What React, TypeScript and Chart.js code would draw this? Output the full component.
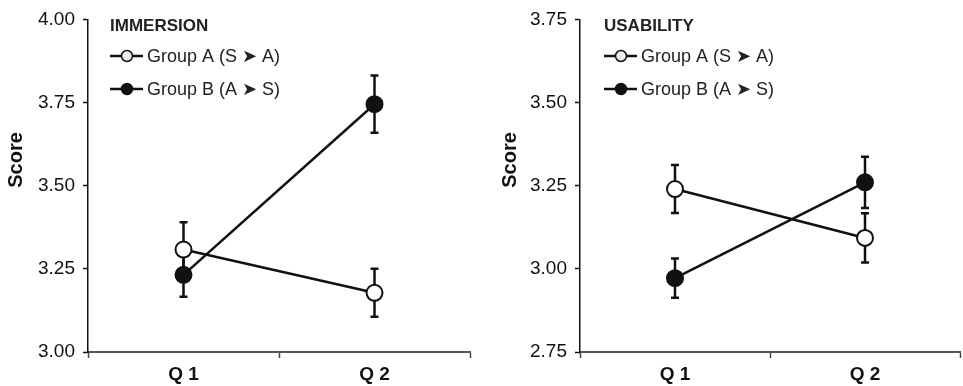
import React, { useEffect, useRef } from 'react';
import { Chart, registerables } from 'chart.js';

Chart.register(...registerables);

const categories = ['Q 1', 'Q 2'];
const seriesNames = ['Group A (S \u27A4 A)', 'Group B (A \u27A4 S)'];

const immersionA = [3.308, 3.178];
const immersionAErr = [0.082, 0.072];
const immersionB = [3.232, 3.745];
const immersionBErr = [0.066, 0.086];

const usabilityA = [3.24, 3.093];
const usabilityAErr = [0.072, 0.074];
const usabilityB = [2.972, 3.26];
const usabilityBErr = [0.059, 0.077];

const immersionTicks = [3.0, 3.25, 3.5, 3.75, 4.0];
const usabilityTicks = [2.75, 3.0, 3.25, 3.5, 3.75];

const FONT = "'Liberation Sans', Arial, Helvetica, sans-serif";

const errorBarPlugin = {
  id: 'errorBars',
  beforeDatasetsDraw(chart: any) {
    const ctx = chart.ctx;
    const yScale = chart.scales.y;
    chart.data.datasets.forEach((ds: any, i: number) => {
      const meta = chart.getDatasetMeta(i);
      const errs = ds.errors || [];
      meta.data.forEach((pt: any, j: number) => {
        const v = ds.data[j];
        const e = errs[j] || 0;
        const yt = yScale.getPixelForValue(v + e);
        const yb = yScale.getPixelForValue(v - e);
        const x = pt.x;
        ctx.save();
        ctx.strokeStyle = '#111';
        ctx.lineWidth = 2.5;
        ctx.beginPath();
        ctx.moveTo(x, yt);
        ctx.lineTo(x, yb);
        ctx.moveTo(x - 4, yt);
        ctx.lineTo(x + 4, yt);
        ctx.moveTo(x - 4, yb);
        ctx.lineTo(x + 4, yb);
        ctx.stroke();
        ctx.restore();
      });
    });
  },
};

const annotPlugin = {
  id: 'annot',
  afterDraw(chart: any, _args: any, opts: any) {
    const ctx = chart.ctx;
    ctx.save();
    ctx.fillStyle = '#222';
    ctx.font = `bold 17px ${FONT}`;
    ctx.textBaseline = 'middle';
    ctx.textAlign = 'left';
    ctx.fillText(opts.title, opts.lx, 26);
    const ys = [56, 89];
    chart.data.datasets.forEach((ds: any, i: number) => {
      const y = ys[i];
      ctx.strokeStyle = '#111';
      ctx.lineWidth = 2.5;
      ctx.beginPath();
      ctx.moveTo(opts.lx, y);
      ctx.lineTo(opts.lx + 33, y);
      ctx.stroke();
      ctx.beginPath();
      ctx.arc(opts.lx + 17, y, 5.5, 0, Math.PI * 2);
      ctx.fillStyle = i === 0 ? '#eeeeee' : '#111';
      ctx.fill();
      ctx.lineWidth = 1.5;
      ctx.stroke();
      ctx.fillStyle = '#222';
      ctx.font = `18px ${FONT}`;
      ctx.fillText(ds.label, opts.lx + 37, y + 1);
    });
    ctx.translate(opts.sx, 160);
    ctx.rotate(-Math.PI / 2);
    ctx.textAlign = 'center';
    ctx.font = `bold 20px ${FONT}`;
    ctx.fillStyle = '#111';
    ctx.fillText('Score', 0, 0);
    ctx.restore();
  },
};

type PanelProps = {
  width: number;
  left: number;
  yWidth: number;
  padRight: number;
  a: number[];
  aErr: number[];
  b: number[];
  bErr: number[];
  ticks: number[];
  title: string;
  lx: number;
  sx: number;
};

function Panel(p: PanelProps) {
  const ref = useRef<HTMLCanvasElement>(null);
  useEffect(() => {
    const chart = new Chart(ref.current as HTMLCanvasElement, {
      type: 'line',
      data: {
        labels: categories,
        datasets: [
          {
            label: seriesNames[0],
            data: p.a,
            errors: p.aErr,
            borderColor: '#111',
            borderWidth: 2.5,
            pointRadius: 8,
            pointBorderWidth: 2,
            pointBackgroundColor: '#ffffff',
            pointBorderColor: '#111',
            tension: 0,
          } as any,
          {
            label: seriesNames[1],
            data: p.b,
            errors: p.bErr,
            borderColor: '#111',
            borderWidth: 2.5,
            pointRadius: 8,
            pointBorderWidth: 2,
            pointBackgroundColor: '#111',
            pointBorderColor: '#111',
            tension: 0,
          } as any,
        ],
      },
      options: {
        responsive: false,
        animation: false,
        layout: { padding: { top: 15, right: p.padRight, left: 0, bottom: 0 } },
        plugins: {
          legend: { display: false },
          tooltip: { enabled: false },
          annot: { title: p.title, lx: p.lx, sx: p.sx },
        } as any,
        scales: {
          x: {
            type: 'category',
            offset: true,
            grid: {
              offset: true,
              drawOnChartArea: false,
              drawTicks: true,
              tickLength: 6,
              tickColor: '#444',
              tickWidth: 1.5,
            },
            border: { display: true, color: '#555', width: 2 },
            ticks: {
              color: '#111',
              font: { family: FONT, size: 19, weight: 'bold' },
              padding: 5,
            },
            afterFit: (s: any) => {
              s.height = 34;
            },
          },
          y: {
            min: p.ticks[0],
            max: p.ticks[p.ticks.length - 1],
            afterBuildTicks: (s: any) => {
              s.ticks = p.ticks.map((v) => ({ value: v }));
            },
            grid: {
              drawOnChartArea: false,
              drawTicks: true,
              tickLength: 5,
              tickColor: '#111',
              tickWidth: 1.5,
            },
            border: { display: true, color: '#111', width: 1.5 },
            ticks: {
              color: '#111',
              font: { family: FONT, size: 19 },
              padding: 8,
              callback: (v: any) => Number(v).toFixed(2),
            },
            afterFit: (s: any) => {
              s.width = p.yWidth;
            },
          },
        },
      },
      plugins: [errorBarPlugin, annotPlugin],
    } as any);
    return () => chart.destroy();
  }, []);
  return (
    <canvas
      ref={ref}
      width={p.width}
      height={386}
      style={{ position: 'absolute', left: p.left, top: 0, width: p.width, height: 386 }}
    />
  );
}

export default function App() {
  return (
    <div
      style={{
        position: 'absolute',
        left: 0,
        top: 0,
        width: 963,
        height: 386,
        overflow: 'hidden',
        background: '#fff',
      }}
    >
      <Panel
        width={480}
        left={0}
        yWidth={88}
        padRight={7}
        a={immersionA}
        aErr={immersionAErr}
        b={immersionB}
        bErr={immersionBErr}
        ticks={immersionTicks}
        title="IMMERSION"
        lx={110}
        sx={16}
      />
      <Panel
        width={490}
        left={480}
        yWidth={100}
        padRight={3}
        a={usabilityA}
        aErr={usabilityAErr}
        b={usabilityB}
        bErr={usabilityBErr}
        ticks={usabilityTicks}
        title="USABILITY"
        lx={124}
        sx={30}
      />
    </div>
  );
}
